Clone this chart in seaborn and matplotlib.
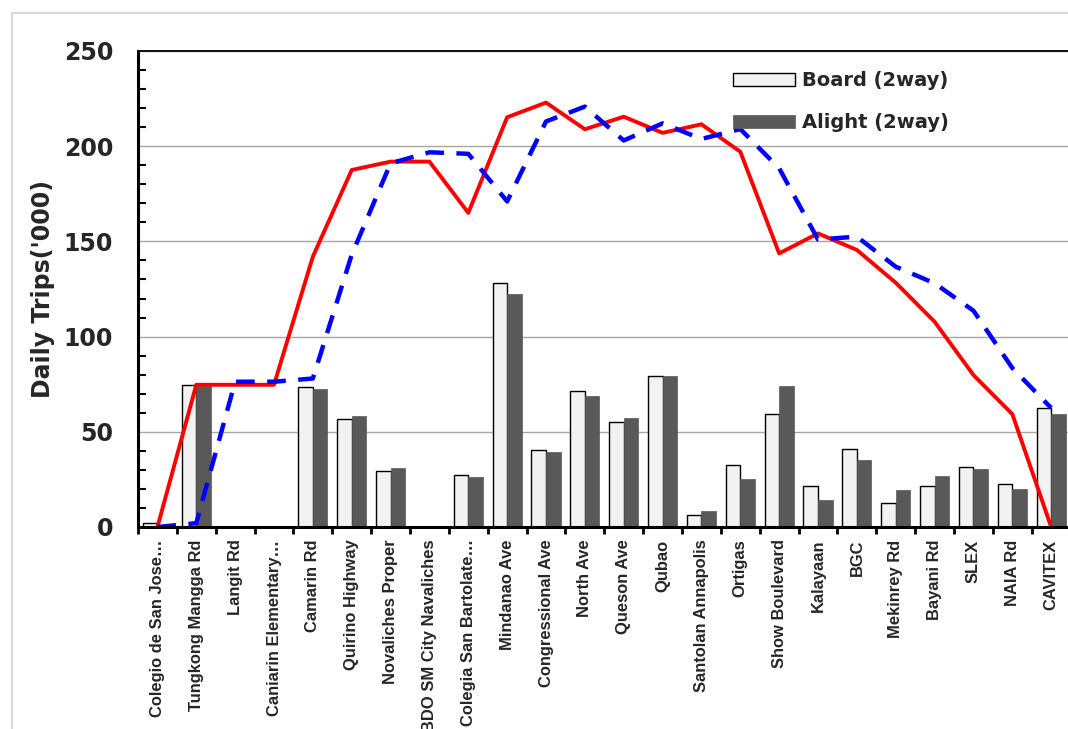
import numpy as np
import pandas as pd
import matplotlib.pyplot as plt
from matplotlib.patches import Rectangle
from matplotlib.ticker import MultipleLocator, FixedLocator
import seaborn as sns

# Data ('000 daily trips)
stops = ["Colegio de San Jose…", "Tungkong Mangga Rd", "Langit Rd",
         "Caniarin Elementary…", "Camarin Rd", "Quirino Highway",
         "Novaliches Proper", "BDO SM City Navaliches", "Colegia San Bartolate…",
         "Mindanao Ave", "Congressional Ave", "North Ave", "Queson Ave", "Qubao",
         "Santolan Annapolis", "Ortigas", "Show Boulevard", "Kalayaan", "BGC",
         "Mekinrey Rd", "Bayani Rd", "SLEX", "NAIA Rd", "CAVITEX"]
board = [2, 74.5, 0, 0, 73.4, 56.5, 29.4, 0, 27.5, 128.3, 40.4, 71.4,
         55.3, 79.1, 6.1, 32.7, 59.2, 21.7, 41.1, 12.6, 21.7, 31.3, 22.4, 62.5]
alight = [0, 73.8, 0, 0, 72.3, 58.1, 30.8, 0, 26.4, 122.2, 39.2, 69.0,
          57.4, 79.3, 8.2, 25.0, 74.2, 14.2, 35.4, 19.3, 27.0, 30.3, 20.0, 59.2]
load_red = [0, 74.7, 74.7, 74.7, 142, 187.5, 191.9, 191.9, 165, 215.2, 222.9, 208.9,
            215.5, 207, 211.5, 197.1, 143.7, 154.2, 145.5, 128.3, 107.8, 79.8, 59.3, 0]
load_blue = [0, 2, 76.3, 76.3, 78, 143, 191, 196.8, 196, 171, 213, 220.8,
             203, 212, 203.8, 209, 188.4, 151, 152.5, 136.7, 128, 113.6, 83.5, 62.5]

n = len(stops)
df = pd.DataFrame({
    "stop": stops * 2,
    "trips": board + alight,
    "type": ["Board (2way)"] * n + ["Alight (2way)"] * n,
})

sns.set_theme(style="white")
plt.rcParams["font.family"] = ["DejaVu Sans"]

W, H = 1068, 729
fig = plt.figure(figsize=(W / 100, H / 100), dpi=100)
ax = fig.add_axes([138 / W, 1 - 527 / H, (1070.6 - 138) / W, (527 - 51) / H])

# bars
sns.barplot(data=df, x="stop", y="trips", hue="type",
            palette=["#f2f2f2", "#595959"], saturation=1, width=0.75, gap=0,
            errorbar=None, ax=ax, legend=False)
for p in ax.containers[0].patches:
    p.set_edgecolor("black")
    p.set_linewidth(1.0)
for p in ax.containers[1].patches:
    p.set_edgecolor("#595959")
    p.set_linewidth(0.5)

# load lines
sns.lineplot(x=stops, y=load_red, color="#ff0000", linewidth=2.8, sort=False, ax=ax)
sns.lineplot(x=stops, y=load_blue, color="#0000ff", linewidth=3.2, sort=False, ax=ax)
ax.lines[-1].set_dashes([4.2, 2.8])

ax.set_ylim(0, 250)
ax.set_xlim(-0.5, 23.5)

# y axis
ax.yaxis.set_major_locator(MultipleLocator(50))
ax.yaxis.set_minor_locator(MultipleLocator(10))
ax.tick_params(axis="y", which="major", direction="inout", length=12, width=1.8,
               color="black", pad=12, labelsize=17)
ax.tick_params(axis="y", which="minor", direction="in", length=6, width=1.5,
               color="black", left=True)
for lab in ax.get_yticklabels():
    lab.set_fontweight("bold")
ax.set_ylabel("Daily Trips('000)", fontsize=17, fontweight="bold")
ax.yaxis.set_label_coords(-0.089, 0.5)
ax.yaxis.label.set_va("bottom")

# x axis
ax.set_xlabel("")
ax.xaxis.set_minor_locator(FixedLocator(np.arange(n + 1) - 0.5))
ax.tick_params(axis="x", which="major", length=0, pad=9, labelrotation=90)
ax.tick_params(axis="x", which="minor", direction="out", length=5, width=2,
               color="black", bottom=True)
for lab in ax.get_xticklabels():
    lab.set_fontfamily(["Liberation Sans", "DejaVu Sans"])
    lab.set_fontweight("bold")
    lab.set_fontsize(11.9)
    lab.set_va("top")

# grid and spines
ax.grid(axis="y", which="major", color="#a6a6a6", linewidth=1.0)
ax.set_axisbelow(True)
for s in ["left", "bottom"]:
    ax.spines[s].set_color("black")
    ax.spines[s].set_linewidth(2.2)
ax.spines["top"].set_color("black")
ax.spines["top"].set_linewidth(1.3)
ax.spines["right"].set_visible(False)

# legend (bars only)
ax.legend(ax.containers[:2], ["Board (2way)", "Alight (2way)"],
          loc="upper left", bbox_to_anchor=(733 / W, 1 - 71 / H),
          bbox_transform=fig.transFigure, frameon=False, borderpad=0,
          borderaxespad=0, handlelength=3.2, handleheight=0.67,
          handletextpad=0.35, labelspacing=1.2,
          prop={"weight": "bold", "size": 14})

# light outer frame
fig.patches.append(Rectangle((12 / W, -0.1), 1.2, 1.1 - 13 / H,
                             transform=fig.transFigure, fill=False,
                             edgecolor="#d9d9d9", linewidth=1.5))

fig.savefig("out.png", dpi=100)
